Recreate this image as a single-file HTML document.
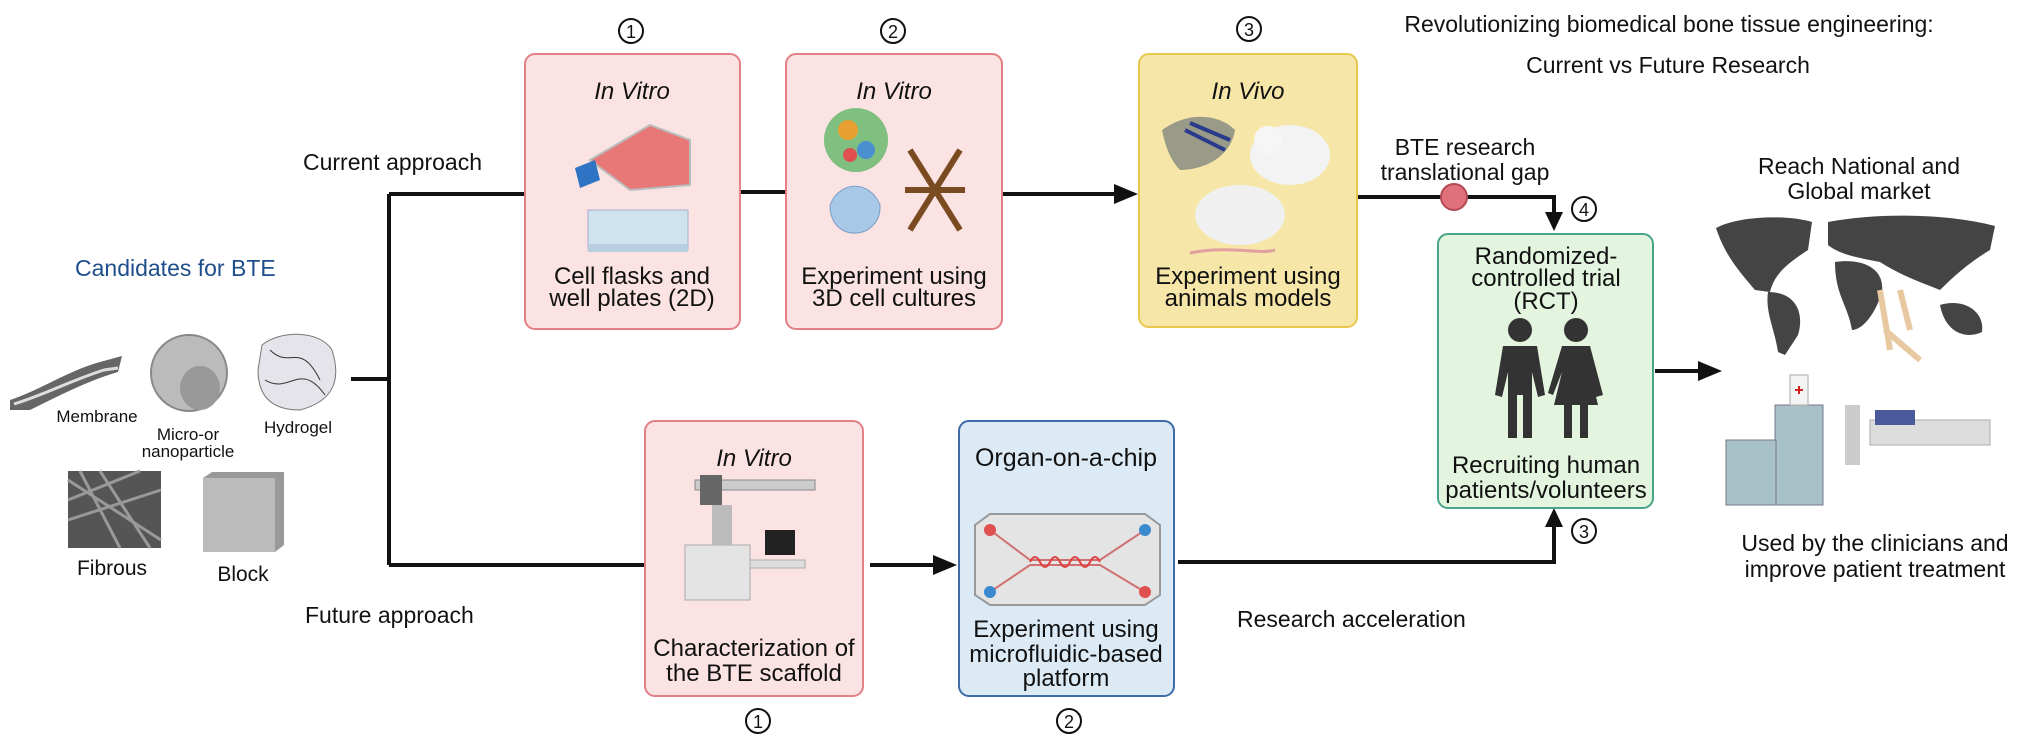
<!DOCTYPE html>
<html><head><meta charset="utf-8"><style>
html,body{margin:0;padding:0;background:#fff;}
svg{display:block;font-family:"Liberation Sans",sans-serif;}
</style></head><body>
<svg width="2032" height="750" viewBox="0 0 2032 750" xmlns="http://www.w3.org/2000/svg">
<g fill="none" stroke="#111" stroke-width="4">
<path d="M351,379 H389 M389,194 V565 M389,194 H525 M740,192 H786 M1002,194 H1115"/>
<path d="M389,565 H645 M870,565 H935"/>
<path d="M1355,197 H1554 V215"/>
<path d="M1178,562 H1554 V525"/>
<path d="M1655,371 H1700"/>
</g>
<g fill="#111">
<path d="M1114,184 L1138,194 L1114,204 z"/>
<path d="M933,555 L957,565 L933,575 z"/>
<path d="M1545,212 L1554,231 L1563,212 z"/>
<path d="M1545,527 L1554,508 L1563,527 z"/>
<path d="M1698,361 L1722,371 L1698,381 z"/>
</g>
<circle cx="1454" cy="197" r="13" fill="#e0707a" stroke="#b34a55" stroke-width="2"/>

<rect x="525" y="54" width="215" height="275" rx="10" fill="#fbe3e3" stroke="#e47f86" stroke-width="2"/>
<rect x="786" y="54" width="216" height="275" rx="10" fill="#fbe3e3" stroke="#e47f86" stroke-width="2"/>
<rect x="1139" y="54" width="218" height="273" rx="10" fill="#f6e6a8" stroke="#e9c64c" stroke-width="2"/>
<rect x="1438" y="234" width="215" height="274" rx="10" fill="#e3f4df" stroke="#4aa48a" stroke-width="2"/>
<rect x="645" y="421" width="218" height="275" rx="10" fill="#fbe3e3" stroke="#e47f86" stroke-width="2"/>
<rect x="959" y="421" width="215" height="275" rx="10" fill="#dbeaf5" stroke="#3d6ca8" stroke-width="2"/>

<g fill="none" stroke="#111" stroke-width="2">
<circle cx="631" cy="31" r="12"/><circle cx="893" cy="31" r="12"/><circle cx="1249" cy="29" r="12"/>
<circle cx="1584" cy="209" r="12"/><circle cx="1584" cy="531" r="12"/>
<circle cx="758" cy="721" r="12"/><circle cx="1069" cy="721" r="12"/>
</g>
<g font-size="18" text-anchor="middle" fill="#111">
<text x="631" y="38">1</text><text x="893" y="38">2</text><text x="1249" y="36">3</text>
<text x="1584" y="216">4</text><text x="1584" y="538">3</text>
<text x="758" y="728">1</text><text x="1069" y="728">2</text>
</g>

<g font-size="23" fill="#111">
<text x="303" y="170">Current approach</text>
<text x="305" y="623">Future approach</text>
<text x="75" y="276" fill="#1f4e8c">Candidates for BTE</text>
<text x="1237" y="627">Research acceleration</text>
</g>
<g font-size="23" fill="#111" text-anchor="middle">
<text x="1669" y="32">Revolutionizing biomedical bone tissue engineering:</text>
<text x="1668" y="73">Current vs Future Research</text>
<text x="1465" y="155">BTE research</text>
<text x="1465" y="180">translational gap</text>
<text x="1859" y="174">Reach National and</text>
<text x="1859" y="199">Global market</text>
<text x="1875" y="551">Used by the clinicians and</text>
<text x="1875" y="577">improve patient treatment</text>
</g>
<g font-size="24" fill="#111" text-anchor="middle">
<text x="632" y="99" font-style="italic">In Vitro</text>
<text x="632" y="284">Cell flasks and</text>
<text x="632" y="306">well plates (2D)</text>
<text x="894" y="99" font-style="italic">In Vitro</text>
<text x="894" y="284">Experiment using</text>
<text x="894" y="306">3D cell cultures</text>
<text x="1248" y="99" font-style="italic">In Vivo</text>
<text x="1248" y="284">Experiment using</text>
<text x="1248" y="306">animals models</text>
<text x="1546" y="264">Randomized-</text>
<text x="1546" y="286">controlled trial</text>
<text x="1546" y="309">(RCT)</text>
<text x="1546" y="473">Recruiting human</text>
<text x="1546" y="498">patients/volunteers</text>
<text x="754" y="466" font-style="italic">In Vitro</text>
<text x="754" y="656">Characterization of</text>
<text x="754" y="681">the BTE scaffold</text>
<text x="1066" y="466" font-size="25">Organ-on-a-chip</text>
<text x="1066" y="637">Experiment using</text>
<text x="1066" y="662">microfluidic-based</text>
<text x="1066" y="686">platform</text>
</g>
<g font-size="17" fill="#111" text-anchor="middle">
<text x="97" y="422">Membrane</text>
<text x="188" y="440">Micro-or</text>
<text x="188" y="457">nanoparticle</text>
<text x="298" y="433">Hydrogel</text>
</g>
<g font-size="21" fill="#111" text-anchor="middle">
<text x="112" y="575">Fibrous</text>
<text x="243" y="581">Block</text>
</g>

<path d="M10,400 C40,390 70,370 100,362 L122,356 L118,372 C90,380 60,395 30,410 L10,410 z" fill="#666"/>
<path d="M14,404 C44,395 72,380 104,370 L118,368" stroke="#ddd" stroke-width="3" fill="none"/>
<circle cx="189" cy="373" r="38" fill="#bbb" stroke="#888" stroke-width="2"/>
<ellipse cx="200" cy="388" rx="20" ry="22" fill="#999"/>
<path d="M262,345 C280,330 320,330 332,350 C340,375 338,400 300,410 C270,410 258,395 258,370 z" fill="#e4e4ea" stroke="#777"/>
<path d="M270,350 C290,370 300,340 320,380 M265,380 C290,395 300,360 325,395" stroke="#333" fill="none"/>
<rect x="68" y="471" width="93" height="77" fill="#555"/>
<path d="M68,480 L161,540 M80,471 L120,548 M68,520 L161,490 M100,471 L150,548 M68,500 L140,471" stroke="#999" stroke-width="3"/>
<rect x="203" y="478" width="72" height="74" fill="#bbb"/>
<path d="M203,478 L212,472 L284,472 L275,478 z M275,478 L284,472 L284,545 L275,552 z" fill="#999"/>

<path d="M590,160 L650,125 L690,140 L690,185 L630,190 z" fill="#e87878" stroke="#bbb" stroke-width="2"/>
<path d="M575,168 L595,160 L600,180 L580,188 z" fill="#2f73c4"/>
<rect x="588" y="210" width="100" height="40" fill="#cfe3ee" stroke="#aac"/>
<rect x="588" y="244" width="100" height="8" fill="#b8cfe0"/>
<circle cx="856" cy="140" r="32" fill="#7fbf7f"/>
<circle cx="848" cy="130" r="10" fill="#e8a030"/><circle cx="866" cy="150" r="9" fill="#4a8fd0"/><circle cx="850" cy="155" r="7" fill="#e05050"/>
<path d="M830,205 C840,180 870,180 880,205 C882,240 830,245 830,205 z" fill="#a8c8e8" stroke="#7a9fc8"/>
<path d="M910,150 L960,230 M960,150 L910,230 M905,190 L965,190" stroke="#7a4a20" stroke-width="6"/>
<path d="M1162,130 C1190,110 1220,115 1235,130 C1230,160 1200,170 1180,170 C1170,160 1165,145 1162,130 z" fill="#9a9a88"/>
<path d="M1185,130 L1225,150 M1190,123 L1230,140" stroke="#2a3a8a" stroke-width="4"/>
<ellipse cx="1290" cy="155" rx="40" ry="30" fill="#f3f3f3"/>
<circle cx="1268" cy="140" r="14" fill="#f6f6f6"/>
<ellipse cx="1240" cy="215" rx="45" ry="30" fill="#f0f0f0"/>
<path d="M1190,253 C1230,245 1260,255 1275,250" stroke="#e0a0a0" stroke-width="3" fill="none"/>
<g fill="#333">
<circle cx="1520" cy="330" r="12"/><circle cx="1576" cy="330" r="12"/>
<path d="M1503,346 H1537 L1545,395 L1538,397 L1532,372 V438 H1523 V395 H1517 V438 H1508 V372 L1502,397 L1495,395 z"/>
<path d="M1562,346 H1590 L1603,395 L1596,397 L1590,372 L1598,405 H1588 V438 H1580 V405 H1572 V438 H1564 V405 H1554 L1562,372 L1553,395 L1548,393 z"/>
</g>
<rect x="695" y="480" width="120" height="10" fill="#ccc" stroke="#888"/>
<rect x="700" y="475" width="22" height="30" fill="#666"/>
<rect x="685" y="545" width="65" height="55" fill="#e4e4e4" stroke="#aaa"/>
<rect x="712" y="505" width="20" height="40" fill="#bbb"/>
<rect x="750" y="560" width="55" height="8" fill="#ddd" stroke="#aaa"/>
<rect x="765" y="530" width="30" height="25" fill="#222"/>
<path d="M975,525 L990,514 H1145 L1160,525 V595 L1145,605 H990 L975,595 z" fill="#e4e4e4" stroke="#999" stroke-width="2"/>
<path d="M990,530 L1030,560 L1100,560 L1145,530 M990,592 L1030,565 L1100,565 L1145,592" stroke="#d07070" stroke-width="2" fill="none"/>
<path d="M1030,562 q5,-10 10,0 q5,10 10,0 q5,-10 10,0 q5,10 10,0 q5,-10 10,0 q5,10 10,0 q5,-10 10,0" stroke="#e04040" stroke-width="2" fill="none"/>
<circle cx="990" cy="530" r="6" fill="#e05050"/><circle cx="1145" cy="592" r="6" fill="#e05050"/>
<circle cx="990" cy="592" r="6" fill="#3a8ad0"/><circle cx="1145" cy="530" r="6" fill="#3a8ad0"/>
<!-- world map -->
<g fill="#444">
<path d="M1716,228 C1740,215 1790,215 1812,222 L1808,250 C1790,262 1775,272 1770,292 L1755,290 C1738,270 1725,255 1716,228 z"/>
<path d="M1768,292 C1795,292 1805,312 1798,335 L1785,355 L1778,352 C1775,330 1765,312 1768,292 z"/>
<path d="M1828,222 C1880,212 1950,214 1995,226 L1990,250 C1970,262 1955,275 1940,290 C1920,282 1900,275 1880,262 C1860,258 1840,255 1828,245 z"/>
<path d="M1835,262 C1862,258 1885,268 1882,292 C1875,315 1862,330 1852,330 C1848,305 1835,295 1835,262 z"/>
<path d="M1940,305 C1962,298 1985,310 1982,332 C1965,340 1945,332 1940,305 z"/>
</g>
<path d="M1880,290 L1890,350 M1900,290 L1910,330 M1885,330 L1920,360" stroke="#e8c8a0" stroke-width="6"/>
<rect x="1775" y="405" width="48" height="100" fill="#a8c0c8" stroke="#778"/>
<rect x="1790" y="375" width="18" height="30" fill="#f4f4f4" stroke="#aaa"/>
<path d="M1795,390 h8 M1799,386 v8" stroke="#d02020" stroke-width="2"/>
<rect x="1726" y="440" width="50" height="65" fill="#a8c0c8" stroke="#778"/>
<rect x="1845" y="405" width="15" height="60" fill="#ccc"/>
<rect x="1870" y="420" width="120" height="25" fill="#ddd" stroke="#aaa"/>
<rect x="1875" y="410" width="40" height="15" fill="#4a5a9a"/>
</svg>
</body></html>
